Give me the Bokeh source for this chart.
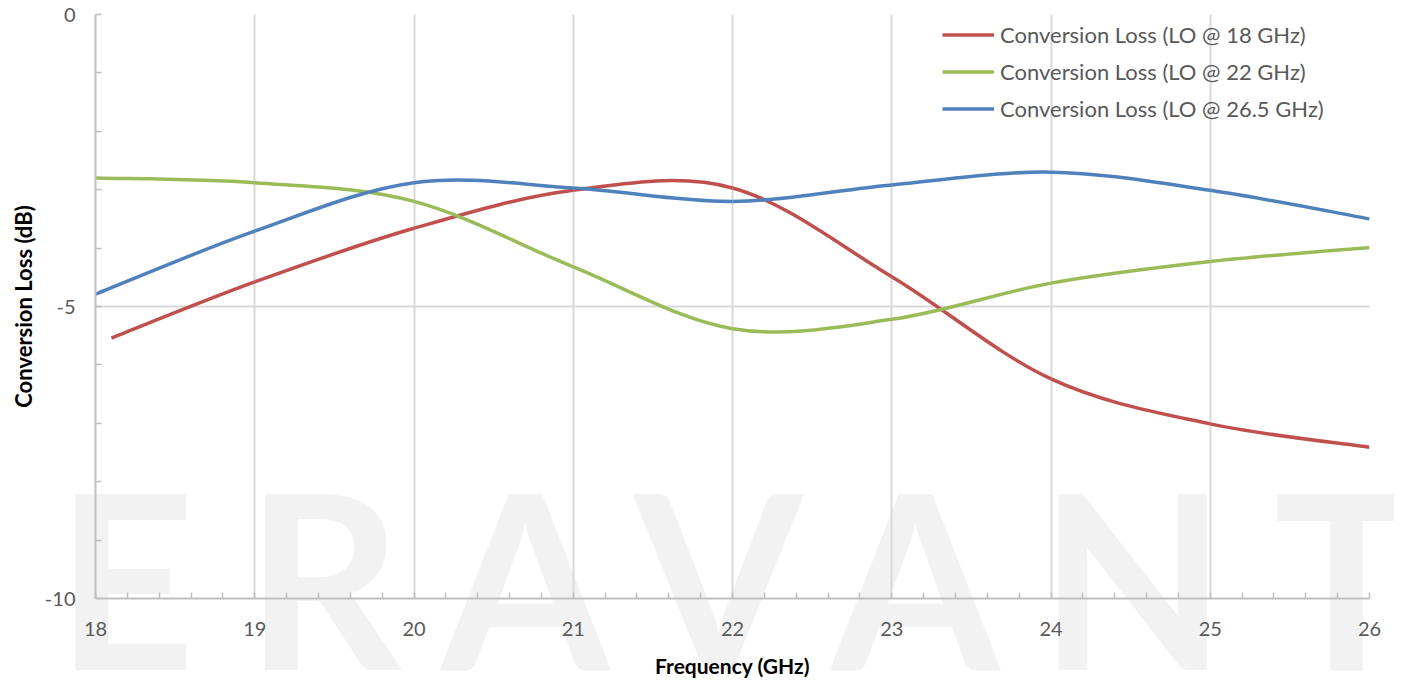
import numpy as np
from bokeh.plotting import figure
from bokeh.layouts import column
from bokeh.models import Range1d, FixedTicker, Legend, LegendItem, Label
from bokeh.embed import file_html
from bokeh.resources import INLINE

# ---- data ----
freq = [18, 19, 20, 21, 22, 23, 24, 25, 26]
freq_lo18 = [18.1, 19, 20, 21, 22, 23, 24, 25, 26]
loss_lo18 = [-5.54, -4.58, -3.66, -3.01, -2.97, -4.49, -6.24, -7.01, -7.41]
loss_lo22 = [-2.80, -2.88, -3.20, -4.32, -5.38, -5.22, -4.60, -4.23, -3.99]
loss_lo265 = [-4.79, -3.71, -2.88, -2.97, -3.20, -2.92, -2.70, -3.01, -3.50]

series_names = ["Conversion Loss (LO @ 18 GHz)",
                "Conversion Loss (LO @ 22 GHz)",
                "Conversion Loss (LO @ 26.5 GHz)"]
series_colors = ["#c0504d", "#9bbb59", "#4f81bd"]

x_ticks = [18, 19, 20, 21, 22, 23, 24, 25, 26]
y_ticks = [-10, -5, 0]
y_tick_labels = ["-10", "-5", "0"]

watermark_letters = ["E", "R", "A", "V", "A", "N", "T"]

FONT = "Lato"
TICK_COLOR = "#595959"
W, H = 1394, 680


def smooth_segments(xs, ys, tension=1.0 / 6.0):
    """Excel-style smoothed line: cubic Bezier control points per segment."""
    xs = np.asarray(xs, float)
    ys = np.asarray(ys, float)
    n = len(xs)
    seg = dict(x0=[], y0=[], x1=[], y1=[], cx0=[], cy0=[], cx1=[], cy1=[])
    for i in range(n - 1):
        im1 = max(i - 1, 0)
        ip2 = min(i + 2, n - 1)
        seg["x0"].append(xs[i]); seg["y0"].append(ys[i])
        seg["x1"].append(xs[i + 1]); seg["y1"].append(ys[i + 1])
        seg["cx0"].append(xs[i] + (xs[i + 1] - xs[im1]) * tension)
        seg["cy0"].append(ys[i] + (ys[i + 1] - ys[im1]) * tension)
        seg["cx1"].append(xs[i + 1] - (xs[ip2] - xs[i]) * tension)
        seg["cy1"].append(ys[i + 1] - (ys[ip2] - ys[i]) * tension)
    return seg


# ---- background figure carrying the watermark (full-canvas frame, no axes) ----
bg = figure(width=W, height=H, output_backend="svg", toolbar_location=None,
            x_range=Range1d(0, W), y_range=Range1d(H, 0),
            x_axis_location=None, y_axis_location=None,
            min_border=0, min_border_left=0, min_border_right=0,
            min_border_top=0, min_border_bottom=0)
bg.frame_align = False
bg.outline_line_color = None
bg.grid.visible = False
bg.background_fill_color = "white"
bg.border_fill_color = "white"
wm_x = [125, 323, 525, 718, 915, 1132, 1346]
for letter, lx in zip(watermark_letters, wm_x):
    bg.add_layout(Label(x=lx, y=575, text=letter, text_font=FONT,
                        text_font_size="243px", text_font_style="bold",
                        text_color="#f2f2f2",
                        text_align="center", text_baseline="alphabetic"))

# ---- main chart, transparent, laid over the background ----
p = figure(width=W, height=H, output_backend="svg", toolbar_location=None,
           x_range=Range1d(18, 26), y_range=Range1d(-10, 0),
           min_border_left=95, min_border_right=25,
           min_border_top=14, min_border_bottom=82)
p.frame_align = False
p.outline_line_color = None
p.background_fill_color = None
p.border_fill_color = None
p.styles = {"margin-top": f"-{H}px"}

# axes
xminor = [round(v, 1) for v in np.arange(18, 26.001, 0.2) if abs(v - round(v)) > 1e-6]
yminor = [v for v in range(-10, 1) if v not in y_ticks]
p.xaxis.ticker = FixedTicker(ticks=x_ticks, minor_ticks=xminor)
p.yaxis.ticker = FixedTicker(ticks=y_ticks, minor_ticks=yminor)
p.yaxis.major_label_overrides = {t: s for t, s in zip(y_ticks, y_tick_labels)}
p.xgrid.ticker = FixedTicker(ticks=x_ticks)
p.ygrid.ticker = FixedTicker(ticks=y_ticks)
p.grid.grid_line_color = "#d9d9d9"
p.grid.grid_line_width = 2

for ax in (p.xaxis[0], p.yaxis[0]):
    ax.axis_line_color = "#bfbfbf"
    ax.axis_line_width = 2
    ax.major_tick_line_color = "#bfbfbf"
    ax.minor_tick_line_color = "#bfbfbf"
    ax.major_tick_line_width = 1.5
    ax.minor_tick_line_width = 1.5
    ax.major_tick_in = 6
    ax.major_tick_out = 0
    ax.minor_tick_in = 6
    ax.minor_tick_out = 0
    ax.major_label_text_font = FONT
    ax.major_label_text_font_size = "20px"
    ax.major_label_text_color = TICK_COLOR
    ax.axis_label_text_font = FONT
    ax.axis_label_text_font_style = "bold"
    ax.axis_label_text_color = "black"

p.xaxis.axis_label = "Frequency (GHz)"
p.yaxis.axis_label = "Conversion Loss (dB)"
p.xaxis.axis_label_text_font_size = "21px"
p.yaxis.axis_label_text_font_size = "22px"
p.xaxis.major_label_standoff = 23
p.yaxis.major_label_standoff = 20
p.xaxis.axis_label_standoff = 14
p.yaxis.axis_label_standoff = 5

# series
renderers = []
for xs, ys, color in zip([freq_lo18, freq, freq], [loss_lo18, loss_lo22, loss_lo265], series_colors):
    seg = smooth_segments(xs, ys)
    r = p.bezier(x0="x0", y0="y0", x1="x1", y1="y1", cx0="cx0", cy0="cy0",
                 cx1="cx1", cy1="cy1", source=seg, line_color=color, line_width=3.5)
    renderers.append(r)

legend = Legend(items=[LegendItem(label=n, renderers=[r]) for n, r in zip(series_names, renderers)],
                location=(847, 471), padding=0, margin=0, spacing=0,
                glyph_width=52, glyph_height=37, label_standoff=6,
                label_text_font=FONT, label_text_font_size="22px",
                label_text_color=TICK_COLOR, border_line_color=None,
                background_fill_alpha=0)
p.add_layout(legend)

layout = column(bg, p)
open("out.html", "w").write(file_html(layout, INLINE))
